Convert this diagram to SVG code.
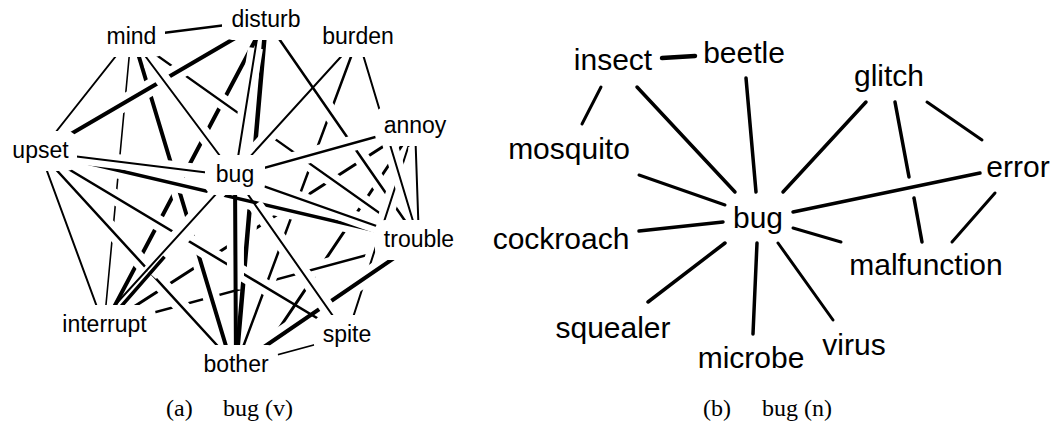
<svg xmlns="http://www.w3.org/2000/svg" width="1054" height="424" viewBox="0 0 1054 424">
  <style>
    .k { stroke: #000; stroke-linecap: round; fill: none; }
    .h { stroke: #fff; stroke-linecap: butt; fill: none; stroke-dasharray: 0 18 64 200; }
    .pad { fill: #fff; stroke: none; }
    .lab { font-family: "Liberation Sans", Arial, Helvetica, sans-serif; fill: #000; text-anchor: middle; }
    .va { font-size: 23px; }
    .nb { font-size: 30px; }
    .cap { font-family: "Liberation Serif", "Times New Roman", serif; font-size: 24px; fill: #000; }
  </style>

  <!-- (a) verb sense: every edge is a white halo plus a black stroke, so later edges break earlier ones -->
  <g id="connectors-a">
    <g id="e-annoy-interrupt"><line class="h" pathLength="100" x1="415" y1="126" x2="104" y2="326" stroke-width="16"/><line class="k" x1="415" y1="126" x2="104" y2="326" stroke-width="3"/></g>
    <g id="e-annoy-bother"><line class="h" pathLength="100" x1="415" y1="126" x2="254" y2="366" stroke-width="16"/><line class="k" x1="415" y1="126" x2="254" y2="366" stroke-width="3"/></g>
    <g id="e-trouble-interrupt"><line class="h" pathLength="100" x1="419" y1="241" x2="104" y2="326" stroke-width="15.5"/><line class="k" x1="419" y1="241" x2="104" y2="326" stroke-width="2.5"/></g>
    <g id="e-disturb-interrupt"><line class="h" pathLength="100" x1="266" y1="20" x2="104" y2="326" stroke-width="17"/><line class="k" x1="266" y1="20" x2="104" y2="326" stroke-width="4"/></g>
    <g id="e-mind-bother"><line class="h" pathLength="100" x1="133" y1="37" x2="232" y2="366" stroke-width="17"/><line class="k" x1="133" y1="37" x2="232" y2="366" stroke-width="4"/></g>
    <g id="e-mind-interrupt"><line class="h" pathLength="100" x1="131" y1="37" x2="104" y2="326" stroke-width="14.5"/><line class="k" x1="131" y1="37" x2="104" y2="326" stroke-width="1.6"/></g>
    <g id="e-burden-bother"><line class="h" pathLength="100" x1="358" y1="38" x2="236" y2="366" stroke-width="15.5"/><line class="k" x1="358" y1="38" x2="236" y2="366" stroke-width="2.5"/></g>
    <g id="e-mind-trouble"><line class="h" pathLength="100" x1="131" y1="37" x2="419" y2="241" stroke-width="15"/><line class="k" x1="131" y1="37" x2="419" y2="241" stroke-width="2.2"/></g>
    <g id="e-disturb-trouble"><line class="h" pathLength="100" x1="266" y1="20" x2="419" y2="241" stroke-width="15.5"/><line class="k" x1="266" y1="20" x2="419" y2="241" stroke-width="2.5"/></g>
    <g id="e-disturb-bother"><line class="h" pathLength="100" x1="266" y1="20" x2="236" y2="366" stroke-width="17.5" style="stroke-dasharray:0 18 60 200"/><line class="k" x1="266" y1="20" x2="236" y2="366" stroke-width="4.5"/></g>
    <g id="e-annoy-spite"><line class="h" pathLength="100" x1="415" y1="126" x2="347" y2="336" stroke-width="15"/><line class="k" x1="415" y1="126" x2="347" y2="336" stroke-width="2"/></g>
    <g id="e-trouble-bother"><line class="h" pathLength="100" x1="419" y1="241" x2="236" y2="366" stroke-width="17"/><line class="k" x1="419" y1="241" x2="236" y2="366" stroke-width="4"/></g>
    <g id="e-upset-disturb"><line class="h" pathLength="100" x1="40" y1="152" x2="266" y2="20" stroke-width="17"/><line class="k" x1="40" y1="152" x2="266" y2="20" stroke-width="4"/></g>
    <g id="e-upset-spite"><line class="h" pathLength="100" x1="40" y1="152" x2="347" y2="336" stroke-width="15.5"/><line class="k" x1="40" y1="152" x2="347" y2="336" stroke-width="2.5"/></g>
    <g id="e-upset-bother"><line class="h" pathLength="100" x1="40" y1="152" x2="236" y2="366" stroke-width="15.5"/><line class="k" x1="40" y1="152" x2="236" y2="366" stroke-width="2.5"/></g>
    <g id="e-bug-interrupt"><line class="h" pathLength="100" x1="235" y1="176" x2="104" y2="326" stroke-width="16.5" style="stroke-dasharray:0 18 47 200"/><line class="k" x1="235" y1="176" x2="104" y2="326" stroke-width="3.5"/></g>
    <g id="e-upset-trouble"><line class="h" pathLength="100" x1="40" y1="152" x2="419" y2="241" stroke-width="16.5"/><line class="k" x1="40" y1="152" x2="419" y2="241" stroke-width="3.5"/></g>
    <g id="e-burden-trouble"><line class="h" pathLength="100" x1="358" y1="38" x2="419" y2="241" stroke-width="15"/><line class="k" x1="358" y1="38" x2="419" y2="241" stroke-width="2"/></g>
    <g id="e-bug-bother"><line class="h" pathLength="100" x1="235" y1="176" x2="236" y2="366" stroke-width="17" style="stroke-dasharray:0 18 37 200"/><line class="k" x1="235" y1="176" x2="236" y2="366" stroke-width="4"/></g>
    <g id="e-bug-spite"><line class="h" pathLength="100" x1="235" y1="176" x2="347" y2="336" stroke-width="15"/><line class="k" x1="235" y1="176" x2="347" y2="336" stroke-width="2"/></g>
    <g id="e-bug-trouble"><line class="h" pathLength="100" x1="235" y1="176" x2="419" y2="241" stroke-width="15"/><line class="k" x1="235" y1="176" x2="419" y2="241" stroke-width="2.2"/></g>
    <g id="e-annoy-bug"><line class="h" pathLength="100" x1="415" y1="126" x2="235" y2="176" stroke-width="15.5"/><line class="k" x1="415" y1="126" x2="235" y2="176" stroke-width="2.5"/></g>
    <g id="e-burden-interrupt"><line class="h" pathLength="100" x1="358" y1="38" x2="96" y2="326" stroke-width="15" style="stroke-dasharray:0 18 57 200"/><line class="k" x1="358" y1="38" x2="96" y2="326" stroke-width="2"/></g>
    <g id="e-mind-bug"><line class="h" pathLength="100" x1="131" y1="37" x2="235" y2="176" stroke-width="15"/><line class="k" x1="131" y1="37" x2="235" y2="176" stroke-width="2"/></g>
    <g id="e-disturb-bug"><line class="h" pathLength="100" x1="260" y1="20" x2="235" y2="176" stroke-width="15"/><line class="k" x1="260" y1="20" x2="235" y2="176" stroke-width="2"/></g>
    <g id="e-upset-bug"><line class="h" pathLength="100" x1="40" y1="152" x2="235" y2="176" stroke-width="15"/><line class="k" x1="40" y1="152" x2="235" y2="176" stroke-width="2"/></g>
    <g id="e-mind-upset"><line class="h" pathLength="100" x1="131" y1="37" x2="40" y2="152" stroke-width="15"/><line class="k" x1="131" y1="37" x2="40" y2="152" stroke-width="2"/></g>
    <g id="e-upset-interrupt"><line class="h" pathLength="100" x1="40" y1="152" x2="104" y2="326" stroke-width="15"/><line class="k" x1="40" y1="152" x2="104" y2="326" stroke-width="2"/></g>
    <g id="e-annoy-trouble"><line class="h" pathLength="100" x1="415" y1="126" x2="419" y2="241" stroke-width="15" style="stroke-dasharray:0 18 52 200"/><line class="k" x1="415" y1="126" x2="419" y2="241" stroke-width="2"/></g>
    <g id="e-spite-bother"><line class="h" pathLength="100" x1="347" y1="336" x2="236" y2="366" stroke-width="14.5"/><line class="k" x1="347" y1="336" x2="236" y2="366" stroke-width="1.5"/></g>
    <g id="e-mind-disturb"><line class="h" pathLength="100" x1="131" y1="37" x2="266" y2="20" stroke-width="15.5"/><line class="k" x1="131" y1="37" x2="266" y2="20" stroke-width="2.5"/></g>
  </g>

  <!-- (a) word nodes: a white pad clears the edges around each word -->
  <g id="n-mind"><rect class="pad" x="98" y="17" width="67" height="40" rx="10"/><text class="lab va" x="131.5" y="44">mind</text></g>
  <g id="n-disturb"><rect class="pad" x="222" y="0" width="88" height="40" rx="10"/><text class="lab va" x="266" y="27">disturb</text></g>
  <g id="n-burden"><rect class="pad" x="314" y="17" width="88" height="40" rx="10"/><text class="lab va" x="358" y="44">burden</text></g>
  <g id="n-annoy"><rect class="pad" x="375" y="106" width="80" height="40" rx="12"/><text class="lab va" x="415" y="133">annoy</text></g>
  <g id="n-upset"><rect class="pad" x="4" y="131" width="73" height="40" rx="10"/><text class="lab va" x="40.5" y="158">upset</text></g>
  <g id="n-bug-v"><rect class="pad" x="205" y="155" width="60" height="40" rx="10"/><text class="lab va" x="235" y="182">bug</text></g>
  <g id="n-trouble"><rect class="pad" x="375" y="220" width="88" height="40" rx="10"/><text class="lab va" x="419" y="247">trouble</text></g>
  <g id="n-interrupt"><rect class="pad" x="53" y="305" width="103" height="40" rx="10"/><text class="lab va" x="104.5" y="332">interrupt</text></g>
  <g id="n-spite"><rect class="pad" x="314" y="315" width="67" height="40" rx="10"/><text class="lab va" x="347" y="342">spite</text></g>
  <g id="n-bother"><rect class="pad" x="194" y="345" width="84" height="40" rx="10"/><text class="lab va" x="236" y="372">bother</text></g>

  <!-- (b) noun sense -->
  <g id="connectors-b" class="k">
    <line x1="662" y1="58" x2="695" y2="56" stroke-width="4.5"/>
    <line x1="601" y1="87" x2="582" y2="124" stroke-width="3"/>
    <line x1="637" y1="87" x2="735" y2="192" stroke-width="3.5"/>
    <line x1="746" y1="78" x2="756" y2="192" stroke-width="3.5"/>
    <line x1="639" y1="175" x2="725" y2="205" stroke-width="3"/>
    <line x1="866" y1="102" x2="783" y2="192" stroke-width="3.5"/>
    <line x1="895" y1="102" x2="909" y2="177" stroke-width="3.5"/>
    <line x1="914" y1="198" x2="922" y2="242" stroke-width="3.5"/>
    <line x1="927" y1="102" x2="982" y2="140" stroke-width="3"/>
    <line x1="793" y1="212" x2="980" y2="173" stroke-width="3.5"/>
    <line x1="995" y1="193" x2="952" y2="242" stroke-width="3"/>
    <line x1="793" y1="228" x2="841" y2="242" stroke-width="3"/>
    <line x1="778" y1="243" x2="833" y2="320" stroke-width="3"/>
    <line x1="757" y1="243" x2="753" y2="334" stroke-width="3.5"/>
    <line x1="725" y1="243" x2="648" y2="302" stroke-width="3.5"/>
    <line x1="639" y1="231" x2="723" y2="222" stroke-width="3.5"/>
  </g>

  <g id="n-insect"><text class="lab nb" x="613" y="70">insect</text></g>
  <g id="n-beetle"><text class="lab nb" x="744" y="63">beetle</text></g>
  <g id="n-mosquito"><text class="lab nb" x="569" y="159">mosquito</text></g>
  <g id="n-glitch"><text class="lab nb" x="889" y="86">glitch</text></g>
  <g id="n-error"><text class="lab nb" x="1018" y="177">error</text></g>
  <g id="n-bug-n"><text class="lab nb" x="758" y="228">bug</text></g>
  <g id="n-cockroach"><text class="lab nb" x="561" y="249">cockroach</text></g>
  <g id="n-malfunction"><text class="lab nb" x="926" y="275">malfunction</text></g>
  <g id="n-squealer"><text class="lab nb" x="613" y="338">squealer</text></g>
  <g id="n-microbe"><text class="lab nb" x="751" y="368">microbe</text></g>
  <g id="n-virus"><text class="lab nb" x="854" y="355">virus</text></g>

  <!-- captions -->
  <g id="captions" class="cap">
    <text x="166" y="416">(a)</text>
    <text x="223" y="416">bug (v)</text>
    <text x="703" y="416">(b)</text>
    <text x="762" y="416">bug (n)</text>
  </g>
</svg>
